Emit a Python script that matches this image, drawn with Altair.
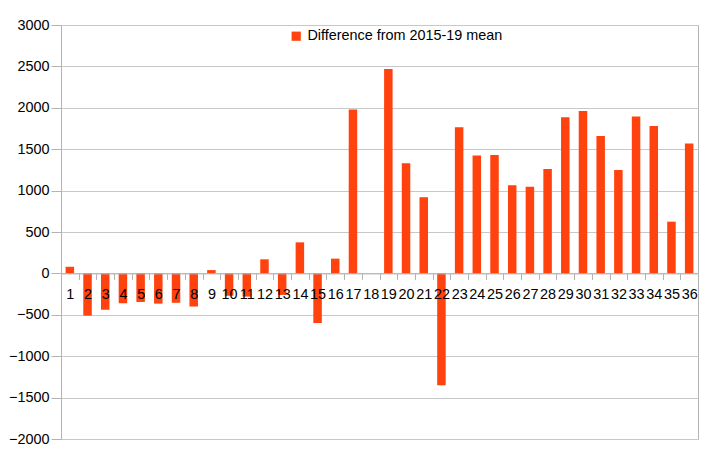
import altair as alt
import pandas as pd

categories = [str(i) for i in range(1, 37)]
values = [80, -510, -440, -360, -345, -365, -355, -400, 40, -270,
          -280, 170, -260, 375, -600, 178, 1980, None, 2470, 1330,
          920, -1350, 1765, 1425, 1430, 1065, 1045, 1260, 1885, 1960,
          1660, 1250, 1895, 1780, 625, 1570]
series_name = "Difference from 2015-19 mean"
y_ticks = list(range(-2000, 3001, 500))

df = pd.DataFrame({"cat": categories, "val": values, "series": series_name})

W, H = 637, 414
FONT = "Liberation Sans"

chart = alt.Chart(df).mark_bar(width=alt.RelativeBandSize(0.48)).encode(
    x=alt.X("cat:N", sort=categories,
            scale=alt.Scale(domain=categories, paddingInner=0, paddingOuter=0),
            axis=alt.Axis(title=None, labelAngle=0, offset=-0.4 * H,
                          tickBand="extent", tickSize=6, tickColor="#b3b3b3",
                          domainColor="#b3b3b3", labelPadding=8,
                          labelFont=FONT, labelFontSize=14.4, labelColor="#000000",
                          grid=False, zindex=1, labelOverlap=False)),
    y=alt.Y("val:Q", scale=alt.Scale(domain=[-2000, 3000], nice=False, zero=False),
            axis=alt.Axis(title=None, values=y_ticks, format="d", tickSize=10,
                          labelPadding=2, tickColor="#b3b3b3", domainColor="#b3b3b3",
                          gridColor="#c8c8c8", labelFont=FONT, labelFontSize=14.4,
                          labelColor="#000000")),
    color=alt.Color("series:N", scale=alt.Scale(range=["#ff420e"]),
                    legend=alt.Legend(title=None, orient="none", legendX=228, legendY=4,
                                      symbolType="square", symbolSize=85,
                                      symbolStrokeWidth=0, labelFont=FONT,
                                      labelFontSize=14.4, labelColor="#000000",
                                      labelOffset=4, labelLimit=0)),
).properties(
    width=W, height=H,
    padding={"left": 0, "top": 9, "right": 5, "bottom": 5},
).configure_view(stroke="#b3b3b3")

chart.save("out.html", embed_options={"renderer": "svg", "actions": False})
